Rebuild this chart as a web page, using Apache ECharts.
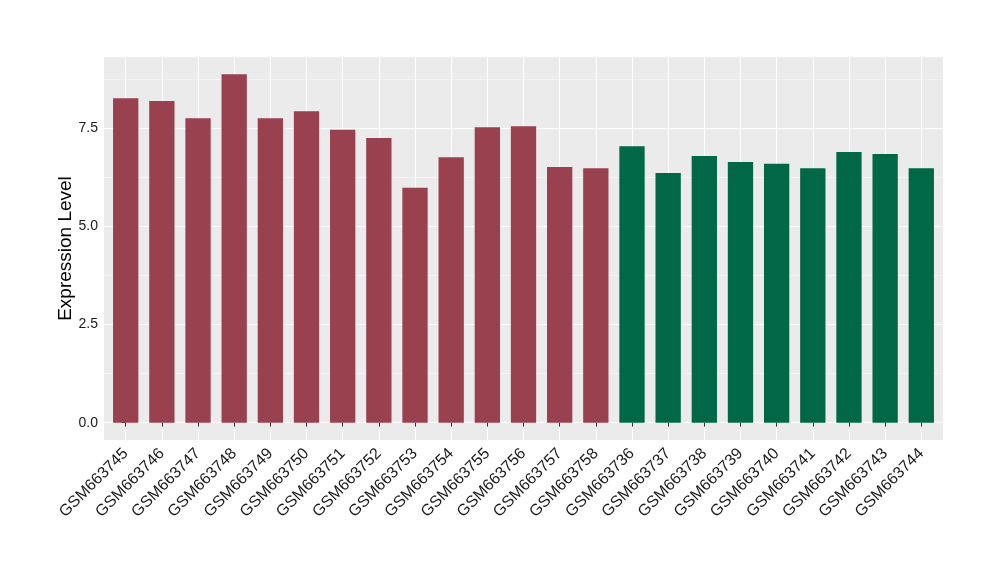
<!DOCTYPE html>
<html>
<head>
<meta charset="utf-8">
<script src="https://cdn.jsdelivr.net/npm/echarts@6/dist/echarts.min.js"></script>
<style>html,body{margin:0;padding:0;background:#fff}#c{width:1000px;height:580px}</style>
</head>
<body>
<div id="c"></div>
<script>
const categories = ["GSM663745","GSM663746","GSM663747","GSM663748","GSM663749","GSM663750","GSM663751","GSM663752","GSM663753","GSM663754","GSM663755","GSM663756","GSM663757","GSM663758","GSM663736","GSM663737","GSM663738","GSM663739","GSM663740","GSM663741","GSM663742","GSM663743","GSM663744"];
const values = [8.26,8.19,7.75,8.87,7.75,7.93,7.46,7.25,5.98,6.76,7.52,7.55,6.51,6.48,7.04,6.36,6.79,6.64,6.59,6.48,6.89,6.84,6.48];
const groups = ["A","A","A","A","A","A","A","A","A","A","A","A","A","A","B","B","B","B","B","B","B","B","B"];
const groupColors = {A:"#9A4150", B:"#006846"};
const yTicks = [0, 2.5, 5, 7.5];
const yMinor = [1.25, 3.75, 6.25, 8.75];
const yLabels = ["0.0","2.5","5.0","7.5"];

const font = "'Liberation Sans', Arial, Helvetica, sans-serif";
const yMin = -0.44, yMax = 9.31;
const xIdx = categories.map((c,i)=>i);

const chart = echarts.init(document.getElementById('c'), null, {renderer:'canvas'});
chart.setOption({
  backgroundColor: '#ffffff',
  animation: false,
  grid: {left:104, right:57, top:57, bottom:140, show:true, backgroundColor:'#EBEBEB', borderWidth:0},
  xAxis: {
    type:'value', min:-0.6, max:categories.length-1+0.6,
    axisLine:{show:false},
    axisTick:{show:true, customValues:xIdx, length:4, lineStyle:{color:'#333333', width:1}},
    axisLabel:{customValues:xIdx, rotate:45, fontSize:16, color:'#1a1a1a', fontFamily:font, margin:11,
      formatter:(v)=>categories[Math.round(v)]},
    splitLine:{show:true, lineStyle:{color:'#ffffff', width:1.1}}
  },
  yAxis: [{
    type:'value', min:yMin, max:yMax,
    axisLine:{show:false},
    axisTick:{show:true, customValues:yTicks, length:4, lineStyle:{color:'#333333', width:1}},
    axisLabel:{customValues:yTicks, fontSize:14, color:'#1a1a1a', fontFamily:font, margin:6,
      formatter:(v)=>yLabels[yTicks.indexOf(v)] !== undefined ? yLabels[yTicks.indexOf(v)] : v.toFixed(1)},
    splitLine:{show:true, lineStyle:{color:'#ffffff', width:1.1}},
    name:'Expression Level', nameLocation:'middle', nameGap:29, nameMoveOverlap:false,
    nameTextStyle:{fontSize:19, color:'#000', fontFamily:font}
  },{
    type:'value', min:yMin, max:yMax, position:'left',
    axisLine:{show:false},
    axisTick:{show:false, customValues:yMinor},
    axisLabel:{show:false, customValues:yMinor},
    splitLine:{show:true, lineStyle:{color:'#ffffff', width:0.5}}
  }],
  series: [{
    type:'bar',
    yAxisIndex:0,
    barWidth:'70%',
    data: values.map((v,i)=>({value:[i, v], itemStyle:{color:groupColors[groups[i]]}})),
    z: 3
  }]
});
</script>
</body>
</html>
